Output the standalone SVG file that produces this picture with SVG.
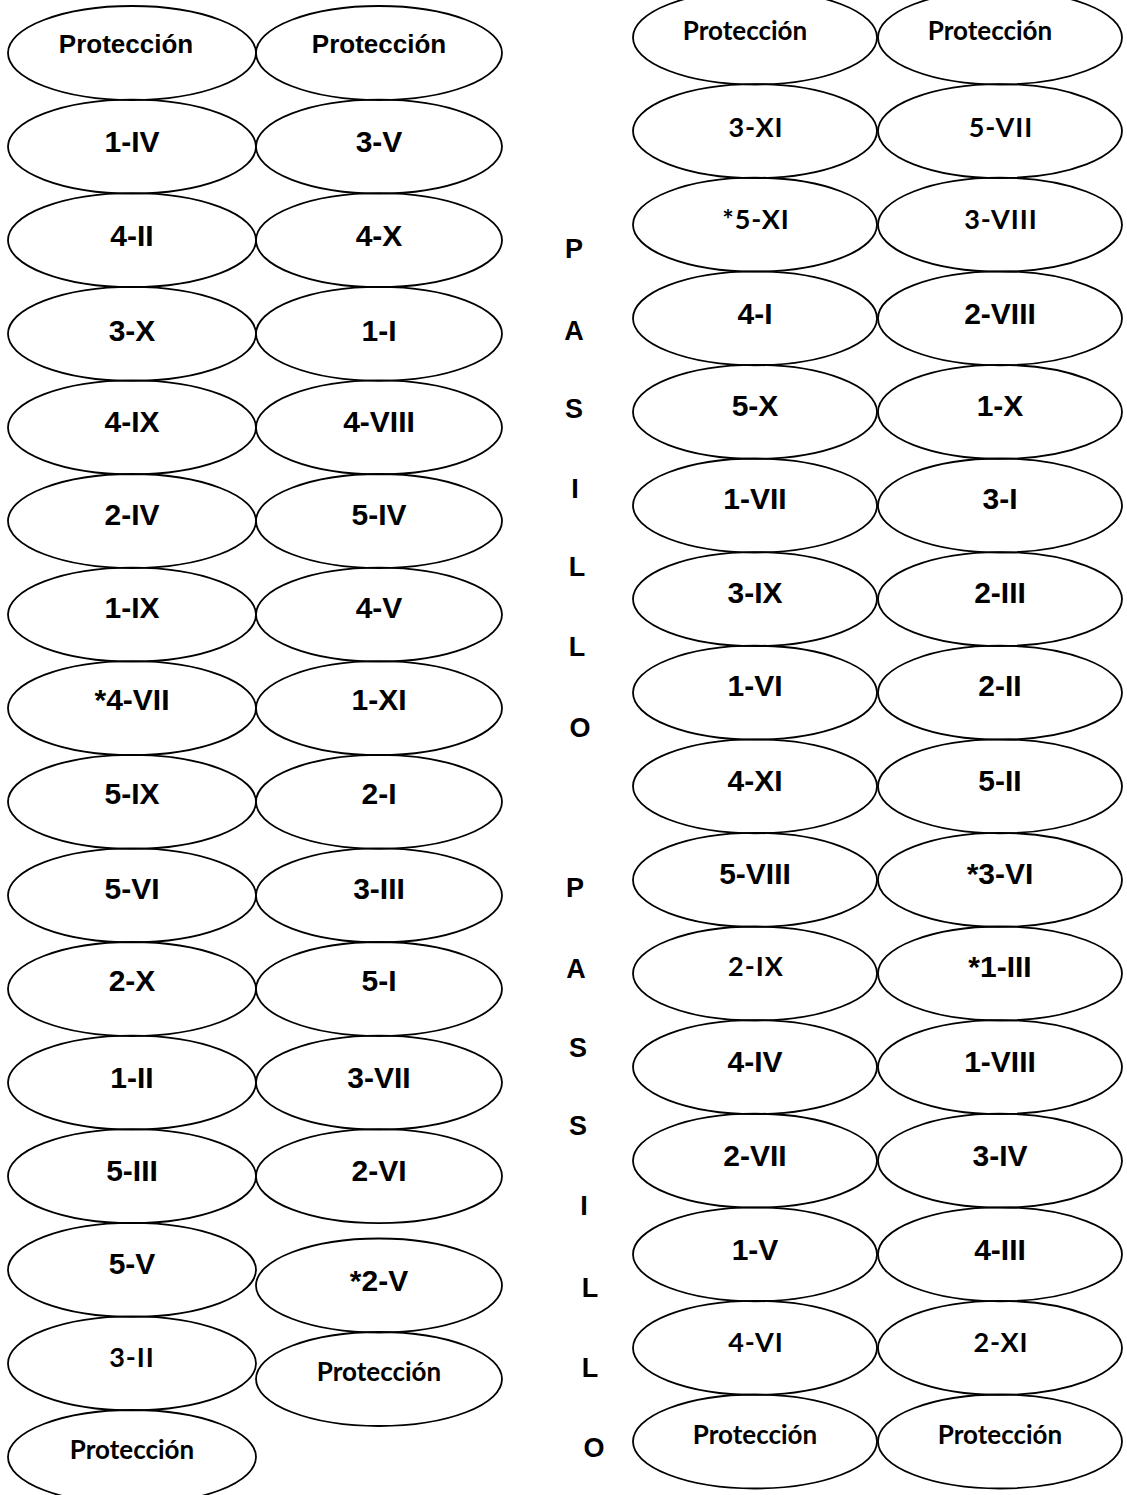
<svg xmlns="http://www.w3.org/2000/svg" width="1127" height="1495" viewBox="0 0 1127 1495">
<style>
.e{fill:none;stroke:#000;stroke-width:1.8}
.a{font-family:"Liberation Sans",Arial,sans-serif;font-weight:bold;font-size:30px;text-anchor:middle;fill:#000}
.p{font-family:"Liberation Sans",Arial,sans-serif;font-weight:bold;font-size:26px;text-anchor:middle;fill:#000}
.c{font-family:Lato,"Open Sans",sans-serif;font-weight:bold;font-size:26px;text-anchor:middle;fill:#000}
.n{font-family:Lato,"Open Sans",sans-serif;font-weight:bold;font-size:27px;letter-spacing:1px;text-anchor:middle;fill:#000}
.v{font-family:"Liberation Sans",Arial,sans-serif;font-weight:bold;font-size:27px;text-anchor:middle;fill:#000}
</style>
<rect width="1127" height="1495" fill="#fff"/>
<g id="connectors"/>
<!-- Left block, left column -->
<g id="L1-0"><ellipse class="e" cx="132" cy="53" rx="124" ry="47"/><text class="p" x="126" y="53">Protección</text></g>
<g id="L1-1"><ellipse class="e" cx="132" cy="146.6" rx="124" ry="47"/><text class="a" x="132" y="152">1-IV</text></g>
<g id="L1-2"><ellipse class="e" cx="132" cy="240.2" rx="124" ry="47"/><text class="a" x="132" y="246">4-II</text></g>
<g id="L1-3"><ellipse class="e" cx="132" cy="333.8" rx="124" ry="47"/><text class="a" x="132" y="341">3-X</text></g>
<g id="L1-4"><ellipse class="e" cx="132" cy="427.4" rx="124" ry="47"/><text class="a" x="132" y="432">4-IX</text></g>
<g id="L1-5"><ellipse class="e" cx="132" cy="521" rx="124" ry="47"/><text class="a" x="132" y="525">2-IV</text></g>
<g id="L1-6"><ellipse class="e" cx="132" cy="614.6" rx="124" ry="47"/><text class="a" x="132" y="618">1-IX</text></g>
<g id="L1-7"><ellipse class="e" cx="132" cy="708.2" rx="124" ry="47"/><text class="a" x="132" y="710">*4-VII</text></g>
<g id="L1-8"><ellipse class="e" cx="132" cy="801.8" rx="124" ry="47"/><text class="a" x="132" y="804">5-IX</text></g>
<g id="L1-9"><ellipse class="e" cx="132" cy="895.4" rx="124" ry="47"/><text class="a" x="132" y="899">5-VI</text></g>
<g id="L1-10"><ellipse class="e" cx="132" cy="989" rx="124" ry="47"/><text class="a" x="132" y="991">2-X</text></g>
<g id="L1-11"><ellipse class="e" cx="132" cy="1082.6" rx="124" ry="47"/><text class="a" x="132" y="1088">1-II</text></g>
<g id="L1-12"><ellipse class="e" cx="132" cy="1176.2" rx="124" ry="47"/><text class="a" x="132" y="1181">5-III</text></g>
<g id="L1-13"><ellipse class="e" cx="132" cy="1269.8" rx="124" ry="47"/><text class="a" x="132" y="1274">5-V</text></g>
<g id="L1-14"><ellipse class="e" cx="132" cy="1363.4" rx="124" ry="47"/><text class="n" x="132" y="1367">3-II</text></g>
<g id="L1-15"><ellipse class="e" cx="132" cy="1457" rx="124" ry="47"/><text class="c" x="132" y="1459">Protección</text></g>
<!-- Left block, right column -->
<g id="L2-0"><ellipse class="e" cx="379" cy="53" rx="123" ry="47"/><text class="p" x="379" y="53">Protección</text></g>
<g id="L2-1"><ellipse class="e" cx="379" cy="146.6" rx="123" ry="47"/><text class="a" x="379" y="152">3-V</text></g>
<g id="L2-2"><ellipse class="e" cx="379" cy="240.2" rx="123" ry="47"/><text class="a" x="379" y="246">4-X</text></g>
<g id="L2-3"><ellipse class="e" cx="379" cy="333.8" rx="123" ry="47"/><text class="a" x="379" y="341">1-I</text></g>
<g id="L2-4"><ellipse class="e" cx="379" cy="427.4" rx="123" ry="47"/><text class="a" x="379" y="432">4-VIII</text></g>
<g id="L2-5"><ellipse class="e" cx="379" cy="521" rx="123" ry="47"/><text class="a" x="379" y="525">5-IV</text></g>
<g id="L2-6"><ellipse class="e" cx="379" cy="614.6" rx="123" ry="47"/><text class="a" x="379" y="618">4-V</text></g>
<g id="L2-7"><ellipse class="e" cx="379" cy="708.2" rx="123" ry="47"/><text class="a" x="379" y="710">1-XI</text></g>
<g id="L2-8"><ellipse class="e" cx="379" cy="801.8" rx="123" ry="47"/><text class="a" x="379" y="804">2-I</text></g>
<g id="L2-9"><ellipse class="e" cx="379" cy="895.4" rx="123" ry="47"/><text class="a" x="379" y="899">3-III</text></g>
<g id="L2-10"><ellipse class="e" cx="379" cy="989" rx="123" ry="47"/><text class="a" x="379" y="991">5-I</text></g>
<g id="L2-11"><ellipse class="e" cx="379" cy="1082.6" rx="123" ry="47"/><text class="a" x="379" y="1088">3-VII</text></g>
<g id="L2-12"><ellipse class="e" cx="379" cy="1176.2" rx="123" ry="47"/><text class="a" x="379" y="1181">2-VI</text></g>
<g id="L2-13"><ellipse class="e" cx="379" cy="1285.5" rx="123" ry="47"/><text class="a" x="379" y="1291">*2-V</text></g>
<g id="L2-14"><ellipse class="e" cx="379" cy="1379" rx="123" ry="47"/><text class="c" x="379" y="1381">Protección</text></g>
<!-- Vertical word -->
<g id="word">
<text class="v" x="574" y="258">P</text>
<text class="v" x="574" y="340">A</text>
<text class="v" x="574" y="418">S</text>
<text class="v" x="575" y="498">I</text>
<text class="v" x="577" y="576">L</text>
<text class="v" x="577" y="656">L</text>
<text class="v" x="580" y="737">O</text>
<text class="v" x="575" y="897">P</text>
<text class="v" x="576" y="978">A</text>
<text class="v" x="578" y="1057">S</text>
<text class="v" x="578" y="1135">S</text>
<text class="v" x="584" y="1215">I</text>
<text class="v" x="590" y="1297">L</text>
<text class="v" x="590" y="1377">L</text>
<text class="v" x="594" y="1457">O</text>
</g>
<!-- Right block, left column -->
<g id="R1-0"><ellipse class="e" cx="755" cy="37.5" rx="122" ry="47"/><text class="c" x="745" y="40">Protección</text></g>
<g id="R1-1"><ellipse class="e" cx="755" cy="131.1" rx="122" ry="47"/><text class="n" x="756" y="137">3-XI</text></g>
<g id="R1-2"><ellipse class="e" cx="755" cy="224.7" rx="122" ry="47"/><text class="n" x="756" y="229">*5-XI</text></g>
<g id="R1-3"><ellipse class="e" cx="755" cy="318.3" rx="122" ry="47"/><text class="a" x="755" y="324">4-I</text></g>
<g id="R1-4"><ellipse class="e" cx="755" cy="411.9" rx="122" ry="47"/><text class="a" x="755" y="416">5-X</text></g>
<g id="R1-5"><ellipse class="e" cx="755" cy="505.5" rx="122" ry="47"/><text class="a" x="755" y="509">1-VII</text></g>
<g id="R1-6"><ellipse class="e" cx="755" cy="599.1" rx="122" ry="47"/><text class="a" x="755" y="603">3-IX</text></g>
<g id="R1-7"><ellipse class="e" cx="755" cy="692.7" rx="122" ry="47"/><text class="a" x="755" y="696">1-VI</text></g>
<g id="R1-8"><ellipse class="e" cx="755" cy="786.3" rx="122" ry="47"/><text class="a" x="755" y="791">4-XI</text></g>
<g id="R1-9"><ellipse class="e" cx="755" cy="879.9" rx="122" ry="47"/><text class="a" x="755" y="884">5-VIII</text></g>
<g id="R1-10"><ellipse class="e" cx="755" cy="973.5" rx="122" ry="47"/><text class="n" x="756" y="976">2-IX</text></g>
<g id="R1-11"><ellipse class="e" cx="755" cy="1067.1" rx="122" ry="47"/><text class="a" x="755" y="1072">4-IV</text></g>
<g id="R1-12"><ellipse class="e" cx="755" cy="1160.7" rx="122" ry="47"/><text class="a" x="755" y="1166">2-VII</text></g>
<g id="R1-13"><ellipse class="e" cx="755" cy="1254.3" rx="122" ry="47"/><text class="a" x="755" y="1260">1-V</text></g>
<g id="R1-14"><ellipse class="e" cx="755" cy="1347.9" rx="122" ry="47"/><text class="n" x="756" y="1352">4-VI</text></g>
<g id="R1-15"><ellipse class="e" cx="755" cy="1441.5" rx="122" ry="47"/><text class="c" x="755" y="1444">Protección</text></g>
<!-- Right block, right column -->
<g id="R2-0"><ellipse class="e" cx="1000" cy="37.5" rx="122" ry="47"/><text class="c" x="990" y="40">Protección</text></g>
<g id="R2-1"><ellipse class="e" cx="1000" cy="131.1" rx="122" ry="47"/><text class="n" x="1001" y="137">5-VII</text></g>
<g id="R2-2"><ellipse class="e" cx="1000" cy="224.7" rx="122" ry="47"/><text class="n" x="1001" y="229">3-VIII</text></g>
<g id="R2-3"><ellipse class="e" cx="1000" cy="318.3" rx="122" ry="47"/><text class="a" x="1000" y="324">2-VIII</text></g>
<g id="R2-4"><ellipse class="e" cx="1000" cy="411.9" rx="122" ry="47"/><text class="a" x="1000" y="416">1-X</text></g>
<g id="R2-5"><ellipse class="e" cx="1000" cy="505.5" rx="122" ry="47"/><text class="a" x="1000" y="509">3-I</text></g>
<g id="R2-6"><ellipse class="e" cx="1000" cy="599.1" rx="122" ry="47"/><text class="a" x="1000" y="603">2-III</text></g>
<g id="R2-7"><ellipse class="e" cx="1000" cy="692.7" rx="122" ry="47"/><text class="a" x="1000" y="696">2-II</text></g>
<g id="R2-8"><ellipse class="e" cx="1000" cy="786.3" rx="122" ry="47"/><text class="a" x="1000" y="791">5-II</text></g>
<g id="R2-9"><ellipse class="e" cx="1000" cy="879.9" rx="122" ry="47"/><text class="a" x="1000" y="884">*3-VI</text></g>
<g id="R2-10"><ellipse class="e" cx="1000" cy="973.5" rx="122" ry="47"/><text class="a" x="1000" y="977">*1-III</text></g>
<g id="R2-11"><ellipse class="e" cx="1000" cy="1067.1" rx="122" ry="47"/><text class="a" x="1000" y="1072">1-VIII</text></g>
<g id="R2-12"><ellipse class="e" cx="1000" cy="1160.7" rx="122" ry="47"/><text class="a" x="1000" y="1166">3-IV</text></g>
<g id="R2-13"><ellipse class="e" cx="1000" cy="1254.3" rx="122" ry="47"/><text class="a" x="1000" y="1260">4-III</text></g>
<g id="R2-14"><ellipse class="e" cx="1000" cy="1347.9" rx="122" ry="47"/><text class="n" x="1001" y="1352">2-XI</text></g>
<g id="R2-15"><ellipse class="e" cx="1000" cy="1441.5" rx="122" ry="47"/><text class="c" x="1000" y="1444">Protección</text></g>
</svg>
